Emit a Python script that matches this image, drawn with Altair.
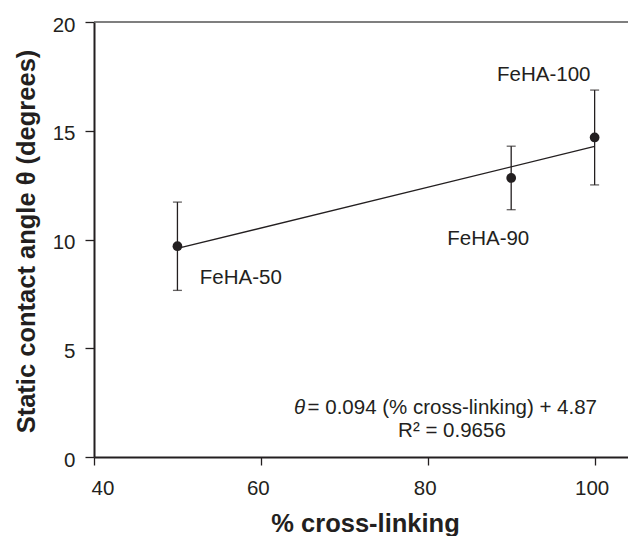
import altair as alt
import pandas as pd

# ---- data ----
crosslink = [50, 90, 100]
angle = [9.69, 12.83, 14.69]
err = [2.03, 1.46, 2.18]
names = ["FeHA-50", "FeHA-90", "FeHA-100"]
name_x = [57.6, 87.25, 93.9]
name_y = [7.94, 9.74, 17.28]

eq_theta = ["θ"]
eq_rest = ["= 0.094 (% cross-linking) + 4.87"]
eq_r2 = ["R² = 0.9656"]
eq_x = [65.3, 65.6, 82.9]
eq_y = [1.99, 1.99, 0.92]

x_ticks = [40, 60, 80, 100]
y_ticks = [0, 5, 10, 15, 20]

INK = "#231f20"
FONT = "Liberation Sans"
W, H = 534, 435

pts = pd.DataFrame({"x": crosslink, "y": angle, "e": err})
pts["lo"] = pts["y"] - pts["e"]
pts["hi"] = pts["y"] + pts["e"]
lab = pd.DataFrame({"x": name_x, "y": name_y, "t": names})

xs = alt.Scale(domain=[40, 104], nice=False, zero=False)
ys = alt.Scale(domain=[0, 20], nice=False)

xax = alt.Axis(values=x_ticks, title="% cross-linking", grid=False,
               domainColor=INK, domainWidth=2, tickColor=INK, tickWidth=1.3,
               tickSize=8, labelFont=FONT, labelFontSize=20.5, labelColor=INK,
               labelPadding=13, labelOffset=-3,
               titleFont=FONT, titleFontSize=25.5, titleFontWeight="bold",
               titleColor=INK, titleX=271, titleY=74, titleAlign="center",
               titleBaseline="alphabetic")
yax = alt.Axis(values=y_ticks, title="Static contact angle θ (degrees)", grid=False,
               domainColor=INK, domainWidth=2, tickColor=INK, tickWidth=1.3,
               tickSize=9, labelFont=FONT, labelFontSize=20.5, labelColor=INK,
               labelPadding=10, labelOffset=3,
               titleFont=FONT, titleFontSize=25.5, titleFontWeight="bold",
               titleColor=INK, titleX=-60, titleY=219, titleAngle=270,
               titleAlign="center", titleBaseline="alphabetic")

base = alt.Chart(pts)

top_line = alt.Chart(pd.DataFrame({"y": [20]})).mark_rule(
    color="#555555", strokeWidth=1.3).encode(
    y=alt.Y("y:Q", scale=ys, axis=yax), x=alt.value(0), x2=alt.value(W))

fit = base.transform_regression("x", "y", extent=[50, 100]).mark_line(
    color=INK, strokeWidth=1.3).encode(
    x=alt.X("x:Q", scale=xs, axis=xax), y=alt.Y("y:Q", scale=ys))

bars = base.mark_rule(color=INK, strokeWidth=1.3).encode(
    x=alt.X("x:Q", scale=xs), y=alt.Y("lo:Q", scale=ys), y2="hi:Q")
cap_lo = base.mark_tick(color=INK, thickness=1.3, size=9, orient="horizontal").encode(
    x=alt.X("x:Q", scale=xs), y=alt.Y("lo:Q", scale=ys))
cap_hi = base.mark_tick(color=INK, thickness=1.3, size=9, orient="horizontal").encode(
    x=alt.X("x:Q", scale=xs), y=alt.Y("hi:Q", scale=ys))
dots = base.mark_circle(color=INK, opacity=1, size=95).encode(
    x=alt.X("x:Q", scale=xs), y=alt.Y("y:Q", scale=ys))

names_t = alt.Chart(lab).mark_text(font=FONT, fontSize=20.5, color=INK,
                                   align="center", baseline="alphabetic").encode(
    x=alt.X("x:Q", scale=xs), y=alt.Y("y:Q", scale=ys), text="t:N")

th = alt.Chart(pd.DataFrame({"x": [eq_x[0]], "y": [eq_y[0]], "t": eq_theta})).mark_text(
    font=FONT, fontSize=20.5, fontStyle="italic", color=INK, align="right",
    baseline="alphabetic").encode(x=alt.X("x:Q", scale=xs), y=alt.Y("y:Q", scale=ys), text="t:N")
rest = alt.Chart(pd.DataFrame({"x": [eq_x[1]], "y": [eq_y[1]], "t": eq_rest})).mark_text(
    font=FONT, fontSize=20.5, color=INK, align="left",
    baseline="alphabetic").encode(x=alt.X("x:Q", scale=xs), y=alt.Y("y:Q", scale=ys), text="t:N")
r2 = alt.Chart(pd.DataFrame({"x": [eq_x[2]], "y": [eq_y[2]], "t": eq_r2})).mark_text(
    font=FONT, fontSize=20.5, color=INK, align="center",
    baseline="alphabetic").encode(x=alt.X("x:Q", scale=xs), y=alt.Y("y:Q", scale=ys), text="t:N")

chart = alt.layer(top_line, fit, bars, cap_lo, cap_hi, dots, names_t, th, rest, r2).properties(
    width=W, height=H,
    autosize=alt.AutoSizeParams(type="none"),
    padding={"left": 86, "top": 14, "right": 0, "bottom": 79},
    background="white",
).configure_view(stroke=None)

chart.save("out.html", embed_options={"renderer": "svg", "actions": False})
